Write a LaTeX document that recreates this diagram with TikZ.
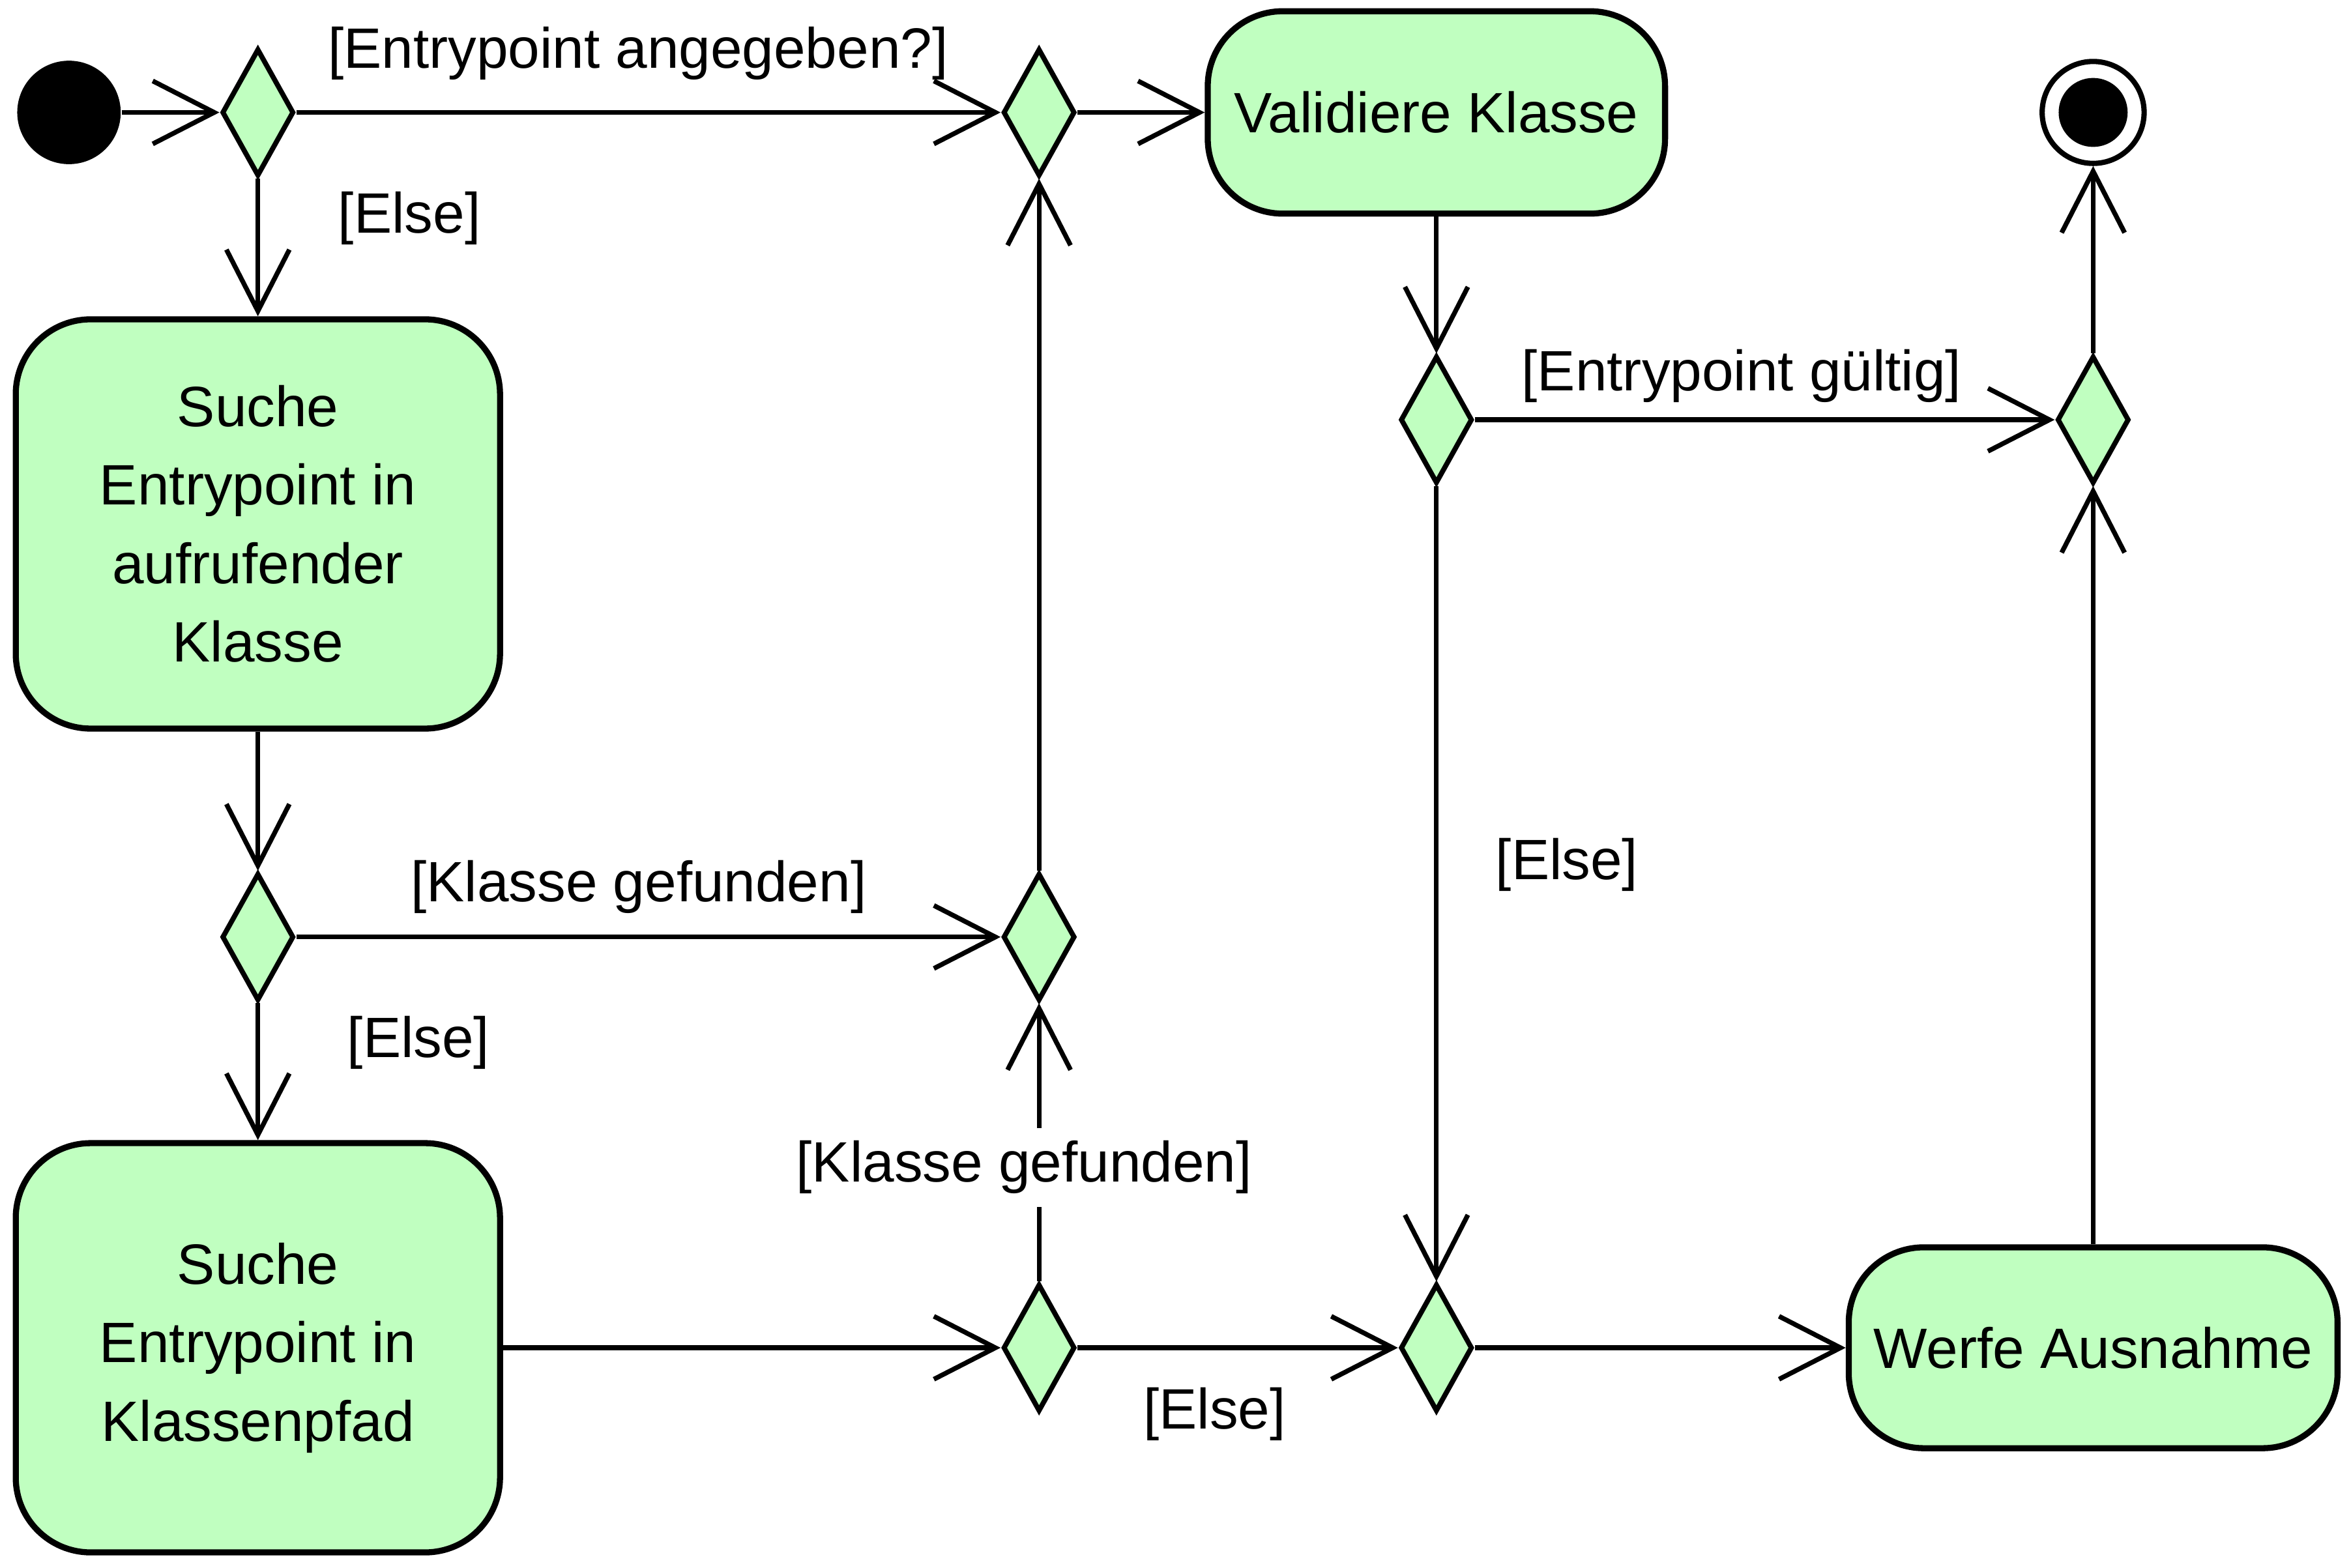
\documentclass[tikz,border=0pt]{standalone}
\usepackage{fontspec}
\setmainfont{Liberation Sans}
\usetikzlibrary{shapes.geometric,arrows.meta}
\definecolor{actgreen}{RGB}{192,255,192}
\newcommand{\umlfont}[0]{\fontsize{10.8}{14.9}\selectfont}
\tikzstyle{block} = [rectangle, draw, line width=1.15pt, fill=actgreen, rounded corners=0.5cm, align=center, inner sep=0pt, font=\umlfont]
\tikzstyle{bigblock} = [block, minimum width=3.23cm, minimum height=2.73cm]
\tikzstyle{decision} = [diamond, draw, line width=0.95pt, fill=actgreen, inner sep=0pt, minimum width=0.48cm, minimum height=0.85cm]
\tikzstyle{startnode} = [circle, fill=black, inner sep=0pt, minimum size=0.69cm]
\tikzstyle{endnode} = [circle, draw, line width=1pt, fill=white, inner sep=0pt, minimum size=0.68cm,
    path picture={\fill[black] (path picture bounding box.center) circle (0.23cm);}]
\tikzstyle{line} = [draw, line width=0.9pt, -{Straight Barb[length=0.41cm,width=0.42cm]}]
\tikzstyle{guard} = [inner sep=0pt, font=\umlfont]
\begin{document}
\begin{tikzpicture}
\useasboundingbox (0,0) rectangle (15.68,-10.455);

% top row
\node [startnode] (start) at (0.46,-0.75) {};
\node [decision, right of=start, node distance=1.26cm] (choice_ep) {};
\node [decision, right of=choice_ep, node distance=5.21cm] (merge_top) {};
\node [block, right of=merge_top, node distance=2.65cm, minimum width=3.05cm, minimum height=1.35cm] (validate) {Validiere Klasse};
\node [endnode, right of=validate, node distance=4.38cm] (final) {};

\node [decision, below of=validate, node distance=2.05cm] (valid_ep) {};
\node [decision, right of=valid_ep, node distance=4.38cm] (merge_end) {};

% left column
\node [bigblock, below of=choice_ep, node distance=2.745cm] (search_caller) {Suche\\ Entrypoint in\\ aufrufender\\ Klasse};
\node [decision, below of=search_caller, node distance=2.755cm] (found_caller) {};
\node [bigblock, below of=found_caller, node distance=2.74cm] (search_path) {Suche\\ Entrypoint in\\ Klassenpfad};

\node [decision, right of=found_caller, node distance=5.21cm] (merge_mid) {};
\node [decision, right of=search_path, node distance=5.21cm] (found_path) {};
\node [decision, right of=found_path, node distance=2.65cm] (merge_else) {};
\node [block, right of=merge_else, node distance=4.38cm, minimum width=3.26cm, minimum height=1.34cm] (throw) {Werfe Ausnahme};

% arrows
\path [line] (start) -- (choice_ep);
\path [line] (choice_ep) -- node[guard, above=0.2cm, xshift=-0.07cm] {[Entrypoint angegeben?]} (merge_top);
\path [line] (choice_ep) -- node[guard, pos=0.29, right=0.52cm] {[Else]} (search_caller);
\path [line] (merge_top) -- (validate);

\path [line] (search_caller) -- (found_caller);
\path [line] (found_caller) -- node[guard, above=0.14cm, xshift=-0.065cm] {[Klasse gefunden]} (merge_mid);
\path [line] (found_caller) -- node[guard, pos=0.29, right=0.58cm] {[Else]} (search_path);
\path [line] (merge_mid) -- (merge_top);

\path [line] (search_path) -- (found_path);
\path [line] (found_path) -- node[guard, pos=0.41, fill=white, inner ysep=0.085cm, xshift=-0.1cm] {[Klasse gefunden]} (merge_mid);
\path [line] (found_path) -- node[guard, below=0.25cm, xshift=-0.155cm] {[Else]} (merge_else);

\path [line] (validate) -- (valid_ep);
\path [line] (valid_ep) -- node[guard, above=0.1cm, xshift=-0.155cm] {[Entrypoint gültig]} (merge_end);
\path [line] (valid_ep) -- node[guard, pos=0.476, right=0.38cm] {[Else]} (merge_else);

\path [line] (merge_else) -- (throw);
\path [line] (throw) -- (merge_end);
\path [line] (merge_end) -- (final);

\end{tikzpicture}
\end{document}
